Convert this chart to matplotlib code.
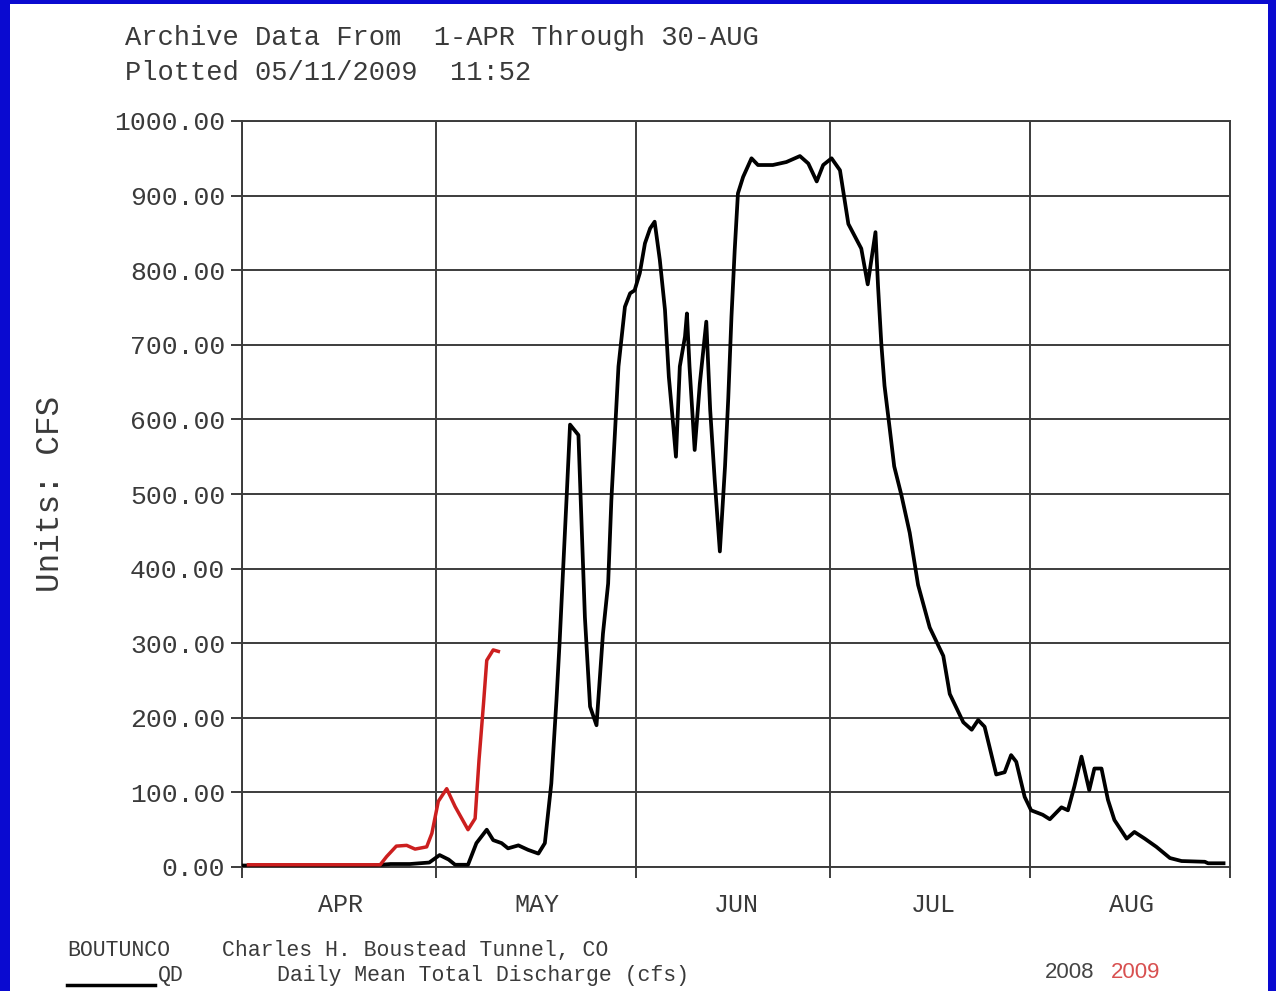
import matplotlib
matplotlib.use("Agg")
import matplotlib.pyplot as plt
from matplotlib.patches import Rectangle

# 2008 daily mean discharge (day 0 = 1-APR)
days_2008 = [0, 5, 10, 15, 20, 23, 26, 29, 30.6, 32, 33, 35, 36.3, 37.9, 38.9, 40.2, 41.2, 42.8,
             44.3, 45.9, 46.9, 47.9, 48.7, 49.2, 49.7, 50.3, 50.8, 52.1, 52.6, 53.1, 53.9, 54.9,
             55.9, 56.7, 57.2, 58.3, 58.8, 59.3, 60.1, 60.8, 61.6, 62.4, 63.2, 63.9, 64.7, 65.5,
             66.1, 66.8, 67.2, 67.8, 68.6, 68.9, 69.3, 70.1, 70.9, 71.9, 72.5, 73.2, 74, 74.8,
             75.3, 75.8, 76.3, 76.8, 77.6, 78.9, 79.9, 82.2, 84.3, 86.4, 87.7, 89, 90, 91.3, 92.6,
             93.9, 95.9, 96.9, 98.1, 98.5, 99, 99.5, 100.3, 101, 102.1, 103.4, 104.7, 106.5,
             108.6, 109.6, 111.7, 113, 114, 115, 116.8, 118.1, 119.1, 119.9, 121.2, 122.2, 124,
             125.1, 126.9, 127.9, 128.9, 130, 131.2, 132, 133.1, 134.1, 135.1, 137, 138.2, 139.8,
             141.6, 143.7, 145.5, 149.1, 149.6, 152]
flow_2008 = [2, 2, 2, 2, 2, 4, 4, 6, 16, 10, 3, 3, 32, 50, 36, 32, 25, 29,
             23, 18, 32, 112, 224, 304, 394, 501, 593, 579, 456, 335, 215, 190,
             313, 380, 492, 671, 711, 751, 769, 773, 796, 836, 856, 865, 814, 747,
             657, 590, 550, 671, 711, 742, 671, 559, 648, 731, 613, 519, 423, 537,
             628, 738, 827, 903, 925, 950, 941, 941, 945, 953, 943, 919, 941, 950, 934,
             862, 829, 781, 851, 778, 702, 645, 588, 537, 499, 448, 378, 321,
             283, 232, 194, 184, 197, 188, 124, 127, 150, 141, 94, 76, 70,
             64, 80, 76, 108, 148, 103, 132, 132, 90, 63, 38, 47, 38,
             27, 12, 8, 7, 5, 5]

# 2009 (plotted up to 10-MAY)
days_2009 = [1, 5, 10, 15, 21.4, 22.4, 23.9, 25.5, 26.8, 28.6, 29.4, 30.4, 31.7, 33, 35,
             36.1, 36.7, 37.4, 37.9, 38.9, 39.7]
flow_2009 = [3, 3, 3, 3, 3, 14, 28, 29, 24, 27, 45, 88, 105, 81, 50,
             65, 143, 219, 277, 291, 289]

month_starts = [0, 30, 61, 91, 122, 153]
month_mids = [15.2, 45.7, 76.5, 107, 137.8]
month_names = ["APR", "MAY", "JUN", "JUL", "AUG"]
y_ticks = [0, 100, 200, 300, 400, 500, 600, 700, 800, 900, 1000]

W, H = 1276, 991
mono = "Liberation Mono"
txt_col = "#3a3a3a"
grid_col = "#3c3c3c"

fig = plt.figure(figsize=(W / 100, H / 100), dpi=100, facecolor="#0a0ad0")
# white slide area inside the blue frame
fig.patches.append(Rectangle((10 / W, 0), (1268 - 10) / W, (H - 4) / H,
                             transform=fig.transFigure, facecolor="white",
                             edgecolor="none", zorder=-10))

ax = fig.add_axes([242 / W, 124 / H, (1230 - 242) / W, (867 - 121) / H])
ax.set_zorder(2)
ax.set_facecolor("white")

ax.plot(days_2008, flow_2008, color="black", lw=2.7, zorder=3)
ax.plot(days_2009, flow_2009, color="#cc1f1f", lw=2.5, zorder=4)

ax.set_xlim(0, 153)
ax.set_ylim(0, 1000)

# grid on month boundaries and every 100 cfs
ax.set_xticks(month_starts)
ax.set_xticklabels([])
ax.set_xticks(month_mids, minor=True)
ax.set_xticklabels(month_names, minor=True, fontfamily=mono, fontsize=18, color=txt_col)
ax.tick_params(axis="x", which="major", length=8, width=1.4, color=grid_col, direction="out")
ax.tick_params(axis="x", which="minor", length=0, pad=19)

ax.set_yticks(y_ticks)
ax.set_yticklabels(["%.2f" % v for v in y_ticks], fontfamily=mono, fontsize=19, color=txt_col)
ax.tick_params(axis="y", length=8, width=1.4, color=grid_col, pad=4)

ax.grid(True, which="major", color=grid_col, lw=1.4)
for s in ax.spines.values():
    s.set_color(grid_col)
    s.set_linewidth(1.4)

ax.set_ylabel("Units: CFS", fontfamily=mono, fontsize=23.5, color=txt_col)
ax.yaxis.set_label_coords(-(242 - 66) / (1230 - 242), 0.5)

# header
fig.text(125 / W, 1 - 38 / H, "Archive Data From  1-APR Through 30-AUG",
         fontfamily=mono, fontsize=19.5, color=txt_col, va="center", ha="left")
fig.text(125 / W, 1 - 73 / H, "Plotted 05/11/2009  11:52",
         fontfamily=mono, fontsize=19.5, color=txt_col, va="center", ha="left")

# footer / legend
fig.text(67 / W, 1 - 950 / H, "BOUTUNCO", fontfamily=mono, fontsize=15.5,
         color=txt_col, va="center", ha="left")
fig.text(222 / W, 1 - 950 / H, "Charles H. Boustead Tunnel, CO", fontfamily=mono,
         fontsize=15.5, color=txt_col, va="center", ha="left")
fig.text(158 / W, 1 - 975 / H, "QD", fontfamily=mono, fontsize=15.5,
         color=txt_col, va="center", ha="left")
fig.text(277 / W, 1 - 975 / H, "Daily Mean Total Discharge (cfs)", fontfamily=mono,
         fontsize=15.5, color=txt_col, va="center", ha="left")
fig.add_artist(plt.Line2D([67 / W, 155 / W], [1 - 985 / H, 1 - 985 / H],
                          transform=fig.transFigure, color="black", lw=2.5))
fig.text(1045 / W, 1 - 973 / H, "2008", fontfamily="Liberation Sans", fontsize=16,
         color="#444444", va="center", ha="left")
fig.text(1111 / W, 1 - 973 / H, "2009", fontfamily="Liberation Sans", fontsize=16,
         color="#d85050", va="center", ha="left")

fig.savefig("out.png", dpi=100, facecolor=fig.get_facecolor())
